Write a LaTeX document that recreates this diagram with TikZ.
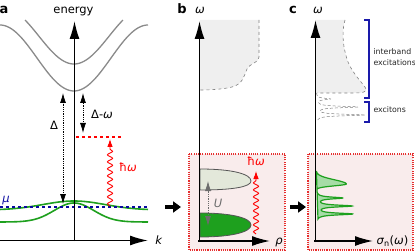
\documentclass[tikz,border=0pt]{standalone}
\usepackage{fontspec}
\setmainfont{DejaVu Sans}
\usetikzlibrary{arrows.meta,decorations.pathmorphing}
\definecolor{bandgrey}{HTML}{8A8A8A}
\definecolor{bandgreen}{HTML}{1EA01E}
\definecolor{mublue}{HTML}{0A0AA0}
\definecolor{boxfill}{HTML}{F9ECEC}
\definecolor{boxred}{HTML}{E62E2E}
\definecolor{contfill}{HTML}{EFEFEF}
\definecolor{paleband}{HTML}{E3E8DA}
\definecolor{peakfill}{HTML}{A6DCA6}
\definecolor{edgegrey}{HTML}{555555}
\definecolor{brkblue}{HTML}{1A1AAA}
\begin{document}
\begin{tikzpicture}[x=1pt,y=-1pt,
  axisline/.style={line width=1.5pt,-{Latex[length=18pt,width=10pt]}},
  band/.style={bandgrey,line width=1.3pt},
  gband/.style={bandgreen,line width=1.6pt},
  gapline/.style={densely dotted,line width=0.8pt,{Latex[length=10pt,width=6pt]}-{Latex[length=10pt,width=6pt]}},
  photon/.style={red,line width=0.9pt,decorate,decoration={snake,amplitude=2.6pt,segment length=7pt,post length=7pt},-{Latex[length=8pt,width=5.5pt]}},
  fatarrow/.style={line width=3.5pt,-{Triangle[length=8pt,width=11pt]}},
  lowbox/.style={fill=boxfill,draw=boxred,dash pattern=on 1.1pt off 1.1pt,line width=1.1pt},
  contin/.style={fill=contfill},
  contedge/.style={dashed,gray,line width=0.6pt},
  panel/.style={font=\bfseries\fontsize{13}{13}\selectfont,anchor=base},
  txt/.style={font=\fontsize{11.5}{12}\selectfont},
  small/.style={font=\fontsize{7.8}{9}\selectfont,anchor=west,text=black!85},
  bracket/.style={brkblue,line width=1.2pt}
]
\useasboundingbox (0,0) rectangle (415,251);

% ---------- panel a ----------
\node[panel] (la) at (4,13.5) {a};
\node[txt,anchor=base] (energy) at (73.5,13.5) {energy};

\draw[band] plot[domain=0:148,samples=80,smooth] (\x,{25+33*(1+cos(180*(\x-74)/74))});
\draw[band] plot[domain=25:123,samples=80,smooth] (\x,{64-27.7*(1-cos(180*(\x-74)/70))});

\draw[gband] plot[domain=0:148,samples=80,smooth] (\x,{222-19*exp(-((\x-74)/28)*((\x-74)/28))});
\draw[gband] plot[domain=0:148,samples=80,smooth] (\x,{210-9*exp(-((\x-74)/44)*((\x-74)/44))});

\coordinate (muL) at (0,207);
\coordinate (muR) at (148,207);
\draw[mublue,dashed,line width=1.4pt] (muL) -- (muR);
\node[txt,text=mublue] (mu) at (6,201) {\textit{μ}};

\coordinate (redL) at (76,137);
\coordinate (redR) at (123,137);
\draw[red,dashed,line width=1.2pt] (redL) -- (redR);

\coordinate (dTop) at (63,93);
\coordinate (dBot) at (63,204);
\draw[gapline] (dBot) -- (dTop);
\node[txt] (dlab) at (54,125) {Δ};

\coordinate (dwTop) at (83,93);
\coordinate (dwBot) at (83,133);
\draw[gapline] (dwBot) -- (dwTop);
\node[txt] (dwlab) at (102,114) {Δ-\textit{ω}};

\coordinate (phAbot) at (110,206);
\coordinate (phAtop) at (110,139);
\draw[photon] (phAbot) -- (phAtop);
\node[txt,text=red] (hwa) at (128,167) {ħ\textit{ω}};

\coordinate (aO) at (74.5,241);
\coordinate (aY) at (74.5,21);
\coordinate (aXs) at (0,240.5);
\coordinate (aX) at (148,240.5);
\draw[axisline] (aO) -- (aY);
\draw[axisline] (aXs) -- (aX);
\node[txt] (klab) at (159,240) {\textit{k}};

\coordinate (ar1s) at (165,207);
\coordinate (ar1e) at (181,207);
\draw[fatarrow] (ar1s) -- (ar1e);

% ---------- panel b ----------
\node[panel] (lb) at (182,13.5) {b};
\node[txt,anchor=base] (wb) at (200,13.5) {\textit{ω}};

\draw[lowbox] (189,154) rectangle (285,250);

\fill[contin] (200,20) -- (259,20) -- (259,57) .. controls (259,63) and (250,63) .. (247,69)
  .. controls (244,76) and (243,84) .. (232,87) .. controls (224,89) and (212,90) .. (200,90) -- cycle;
\draw[contedge] (259,20) -- (259,57) .. controls (259,63) and (250,63) .. (247,69)
  .. controls (244,76) and (243,84) .. (232,87) .. controls (224,89) and (212,90) .. (200,90);

\filldraw[fill=paleband,draw=edgegrey,line width=0.8pt] (200,169) .. controls (232,169) and (251,174) .. (251,181)
  .. controls (251,187) and (232,190) .. (200,190) -- cycle;
\filldraw[fill=bandgreen,draw=edgegrey,line width=0.8pt] (200,213) .. controls (232,213) and (251,218) .. (251,225)
  .. controls (251,232) and (232,237) .. (200,237) -- cycle;

\coordinate (uTop) at (208,181);
\coordinate (uBot) at (208,226);
\draw[gapline,draw=gray!85!black] (uBot) -- (uTop);
\node[txt,text=gray!85!black] (ulab) at (218,203) {\textit{U}};

\coordinate (phBbot) at (256,234);
\coordinate (phBtop) at (256,171);
\draw[photon] (phBbot) -- (phBtop);
\node[txt,text=red] (hwb) at (256,161) {ħ\textit{ω}};

\coordinate (bO) at (199.5,242);
\coordinate (bY) at (199.5,21);
\coordinate (bXs) at (198,241);
\coordinate (bX) at (270,241);
\draw[axisline] (bO) -- (bY);
\draw[axisline] (bXs) -- (bX);
\node[txt] (rholab) at (279,242) {\textit{ρ}};

\coordinate (ar2s) at (290,207);
\coordinate (ar2e) at (306,207);
\draw[fatarrow] (ar2s) -- (ar2e);

% ---------- panel c ----------
\node[panel] (lc) at (293,13.5) {c};
\node[txt,anchor=base] (wc) at (318,13.5) {\textit{ω}};

\draw[lowbox] (308,154) rectangle (413,250);

\fill[contin] (316,20) -- (345,20) .. controls (342,30) and (342,45) .. (348,62)
  .. controls (354,76) and (364,84) .. (366,89) .. controls (367,92) and (362,93) .. (355,93) -- (316,93) -- cycle;
\draw[contedge] (345,20) .. controls (342,30) and (342,45) .. (348,62)
  .. controls (354,76) and (364,84) .. (366,89) .. controls (367,92) and (362,93) .. (355,93) -- (317,93);

\draw[gray,densely dashed,line width=0.5pt] plot[domain=93:121,samples=350]
  ({316+14/(1+((\x-99)/0.9)*((\x-99)/0.9))+41/(1+((\x-107)/0.9)*((\x-107)/0.9))+49/(1+((\x-115)/0.9)*((\x-115)/0.9))},\x);

\filldraw[fill=peakfill,draw=bandgreen,line width=1.2pt] plot[domain=171:219,samples=400]
  ({316+30*exp(-((\x-184)/((\x<184)*6+(\x>=184)*2.6))*((\x-184)/((\x<184)*6+(\x>=184)*2.6)))
   +26/(1+((\x-198)/1.1)*((\x-198)/1.1))+35/(1+((\x-206)/1.1)*((\x-206)/1.1))+36/(1+((\x-214)/1.1)*((\x-214)/1.1))},\x) -- cycle;

\coordinate (cO) at (315.5,242);
\coordinate (cY) at (315.5,20);
\coordinate (cXs) at (314,241);
\coordinate (cX) at (373,241);
\draw[axisline] (cO) -- (cY);
\draw[axisline] (cXs) -- (cX);
\node[txt,anchor=west] (siglab) at (373,241) {\textit{σ}\textsubscript{n}(\textit{ω})};

\draw[bracket] (364,20) -- (369,20) -- (369,98) -- (364,98);
\draw[bracket] (364,102) -- (369,102) -- (369,122) -- (364,122);
\node[small] (ib1) at (370,52) {interband};
\node[small] (ib2) at (370,63) {excitations};
\node[small] (exc) at (370,110) {excitons};
\end{tikzpicture}
\end{document}
